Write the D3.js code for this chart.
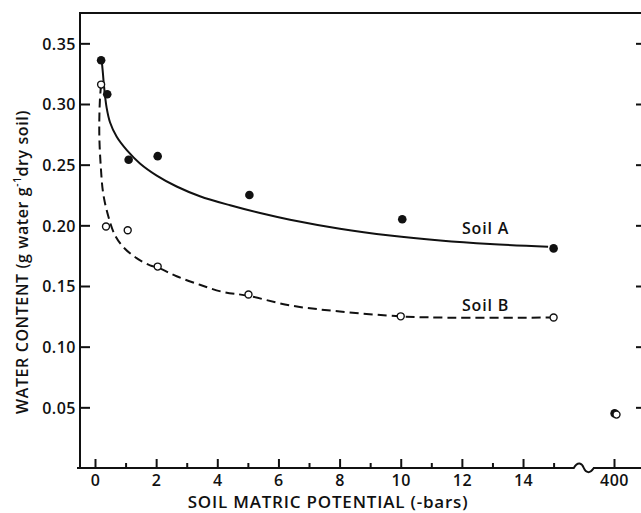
<!DOCTYPE html>
<html>
<head>
<meta charset="utf-8">
<script src="https://cdn.jsdelivr.net/npm/d3@7"></script>
<style>
  body { margin: 0; background: #fff; }
  text { font-family: "Open Sans", "Liberation Sans", Arial, sans-serif; font-weight: 600; fill: #111; }
</style>
</head>
<body>
<div id="chart"></div>
<script>
// measured points (soil matric potential in -bars, water content in g/g)
var potentialA = [0.2, 0.4, 1.1, 2.05, 5.05, 10.05, 15, 404];
var waterA     = [0.336, 0.308, 0.254, 0.257, 0.225, 0.205, 0.181, 0.045];
var potentialB = [0.2, 0.36, 1.07, 2.05, 5.02, 10, 15, 416];
var waterB     = [0.316, 0.199, 0.196, 0.166, 0.143, 0.125, 0.124, 0.044];

// fitted curves
var curveAx = [0.22, 0.26, 0.29, 0.38, 0.49, 0.71, 1.04, 1.47, 2.02, 2.67, 3.43, 4.42, 5.40, 6.38, 8.01, 9.65, 11.29, 12.92, 14.82];
var curveAy = [0.336, 0.325, 0.316, 0.297, 0.285, 0.273, 0.262, 0.251, 0.241, 0.232, 0.224, 0.2165, 0.2101, 0.2046, 0.1972, 0.1916, 0.1875, 0.1846, 0.1823];
var curveBx = [0.20, 0.16, 0.14, 0.19, 0.27, 0.44, 0.65, 0.93, 1.36, 1.80, 2.07, 2.67, 3.43, 4.20, 5.00, 6.38, 8.01, 9.98, 11.29, 14.88];
var curveBy = [0.316, 0.303, 0.276, 0.248, 0.226, 0.207, 0.192, 0.182, 0.173, 0.167, 0.165, 0.158, 0.151, 0.145, 0.142, 0.134, 0.129, 0.125, 0.124, 0.124];

var yTicks = [0.05, 0.10, 0.15, 0.20, 0.25, 0.30, 0.35];
var xTicks = [0, 2, 4, 6, 8, 10, 12, 14, 400];
var xMinor = [1, 3, 5, 7, 9, 11, 13, 15];

var W = 641, H = 513;
var plotLeft = 80, plotRight = 642, plotTop = 13, plotBottom = 468;

var svg = d3.select("#chart")
  .append("svg")
    .attr("width", W)
    .attr("height", H);

// broken x axis: linear 0-15, then a jump to 400
var x = d3.scaleLinear()
    .domain([0, 15, 400])
    .range([95, 553.6, 614]);

var y = d3.scaleLinear()
    .domain([0, 0.375])
    .range([plotBottom, plotTop]);

// frame: top and left lines
svg.append("line")
    .attr("x1", plotLeft).attr("x2", plotRight)
    .attr("y1", plotTop).attr("y2", plotTop)
    .attr("stroke", "#111").attr("stroke-width", 2);
svg.append("line")
    .attr("x1", plotLeft).attr("x2", plotLeft)
    .attr("y1", plotTop - 1).attr("y2", plotBottom)
    .attr("stroke", "#111").attr("stroke-width", 2);

// bottom line with the break squiggle
var bx = (x(15) + x(400)) / 2;
svg.append("path")
    .attr("d", "M" + (plotLeft - 3) + "," + plotBottom +
               "L" + (bx - 10) + "," + plotBottom +
               "C" + (bx - 6) + "," + (plotBottom - 7) + " " + (bx - 2) + "," + (plotBottom - 5) + " " + bx + "," + plotBottom +
               "C" + (bx + 2) + "," + (plotBottom + 5) + " " + (bx + 6) + "," + (plotBottom + 6) + " " + (bx + 10) + "," + plotBottom +
               "L" + W + "," + plotBottom)
    .attr("fill", "none").attr("stroke", "#111").attr("stroke-width", 2);

// y axis (inward ticks)
var yAxis = svg.append("g")
    .attr("transform", "translate(" + plotLeft + ",0)")
    .call(d3.axisRight(y).tickValues(yTicks).tickSize(10).tickFormat(d3.format(".2f")));
yAxis.select(".domain").remove();
yAxis.selectAll("line").attr("stroke", "#111").attr("stroke-width", 2);
yAxis.selectAll("text")
    .attr("x", -4).attr("dy", "0.36em")
    .attr("text-anchor", "end")
    .style("font-size", "16px")
    .style("letter-spacing", "0.5px");

// right side ticks
var yRight = svg.append("g")
    .attr("transform", "translate(" + plotRight + ",0)")
    .call(d3.axisLeft(y).tickValues(yTicks).tickSize(6).tickFormat(""));
yRight.select(".domain").remove();
yRight.selectAll("line").attr("stroke", "#111").attr("stroke-width", 2);

// x axis: major and minor ticks, pointing up
var xAxis = svg.append("g")
    .attr("transform", "translate(0," + plotBottom + ")")
    .call(d3.axisTop(x).tickValues(xTicks).tickSize(9).tickFormat(d3.format("d")));
xAxis.select(".domain").remove();
xAxis.selectAll("line").attr("stroke", "#111").attr("stroke-width", 2);
xAxis.selectAll("text")
    .attr("y", 18).attr("dy", 0)
    .style("font-size", "16px")
    .style("letter-spacing", "0.5px");

var xAxisMinor = svg.append("g")
    .attr("transform", "translate(0," + plotBottom + ")")
    .call(d3.axisTop(x).tickValues(xMinor).tickSize(5).tickFormat(""));
xAxisMinor.select(".domain").remove();
xAxisMinor.selectAll("line").attr("stroke", "#111").attr("stroke-width", 2);

// axis titles
svg.append("text")
    .attr("x", 328).attr("y", 508)
    .attr("text-anchor", "middle")
    .style("font-size", "17px")
    .style("letter-spacing", "0.8px")
    .text("SOIL MATRIC POTENTIAL (-bars)");

var yt = svg.append("text")
    .attr("transform", "translate(28,262) rotate(-90)")
    .attr("text-anchor", "middle")
    .style("font-size", "16px")
    .style("letter-spacing", "0.6px");
yt.append("tspan").text("WATER CONTENT (g water g");
yt.append("tspan").attr("baseline-shift", "super").style("font-size", "10px").text("-1");
yt.append("tspan").text("dry soil)");

// fitted curves
var line = d3.line()
    .x(function(d) { return x(d[0]); })
    .y(function(d) { return y(d[1]); })
    .curve(d3.curveCatmullRom);

svg.append("path")
    .datum(d3.zip(curveAx, curveAy))
    .attr("d", line)
    .attr("fill", "none").attr("stroke", "#111").attr("stroke-width", 2);

svg.append("path")
    .datum(d3.zip(curveBx, curveBy))
    .attr("d", line)
    .attr("fill", "none").attr("stroke", "#111").attr("stroke-width", 2)
    .attr("stroke-dasharray", "9,5");

// points
svg.selectAll(".ptA")
    .data(d3.zip(potentialA, waterA))
    .enter()
    .append("circle")
      .attr("class", "ptA")
      .attr("cx", function(d) { return x(d[0]); })
      .attr("cy", function(d) { return y(d[1]); })
      .attr("r", 4.3)
      .style("fill", "#111");

svg.selectAll(".ptB")
    .data(d3.zip(potentialB, waterB))
    .enter()
    .append("circle")
      .attr("class", "ptB")
      .attr("cx", function(d) { return x(d[0]); })
      .attr("cy", function(d) { return y(d[1]); })
      .attr("r", 3.5)
      .style("fill", "#fff")
      .style("stroke", "#111")
      .style("stroke-width", 1.4);

// series labels
svg.append("text")
    .attr("x", 462).attr("y", 234)
    .style("font-size", "16px")
    .style("letter-spacing", "0.8px")
    .text("Soil A");
svg.append("text")
    .attr("x", 462).attr("y", 311)
    .style("font-size", "16px")
    .style("letter-spacing", "0.8px")
    .text("Soil B");
</script>
</body>
</html>
